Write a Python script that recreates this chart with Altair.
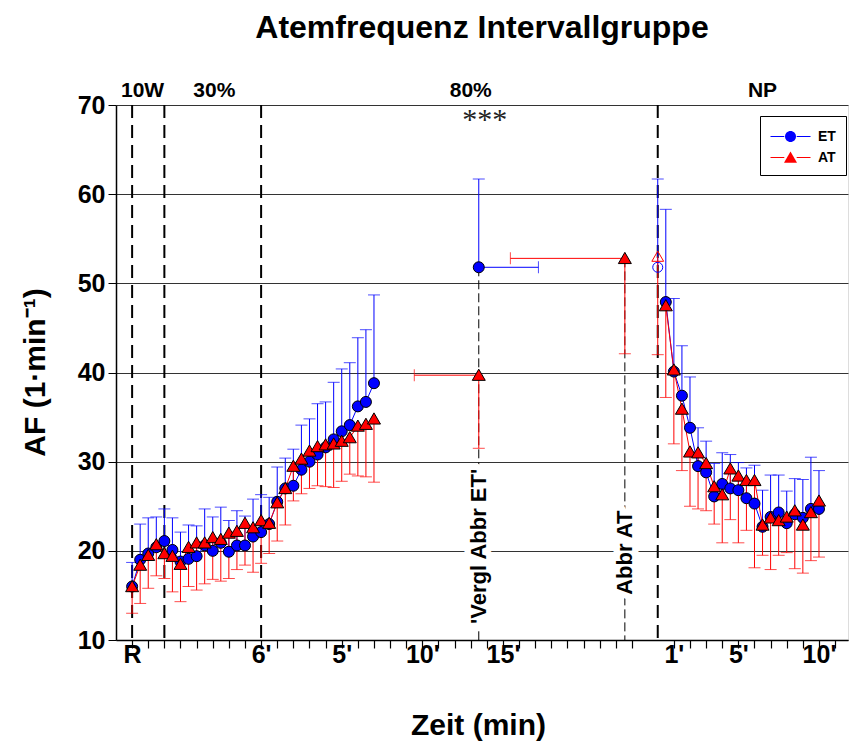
import altair as alt
import pandas as pd

F = "Liberation Sans"

# ---------------- data ----------------
pre_time = [0, 0.5, 1, 1.5, 2, 2.5, 3, 3.5, 4, 4.5, 5, 5.5, 6, 6.5, 7, 7.5, 8, 8.5,
            9, 9.5, 10, 10.5, 11, 11.5, 12, 12.5, 13, 13.5, 14, 14.5, 15]
et_pre = [16.0, 19.0, 19.7, 20.4, 21.1, 20.1, 18.8, 19.1, 19.4, 20.6, 20.0, 20.9, 19.9,
          20.6, 20.6, 21.6, 22.1, 23.0, 25.5, 27.0, 27.3, 29.1, 30.0, 30.8, 31.6, 32.5,
          33.4, 34.1, 36.2, 36.7, 38.8]
et_pre_sd = [2.7, 4.0, 4.0, 3.4, 3.6, 3.6, 3.3, 3.8, 3.4, 4.1, 3.8, 4.0, 3.5, 3.9, 3.3,
             4.2, 4.2, 3.0, 3.9, 3.4, 4.1, 5.0, 4.8, 5.7, 5.1, 6.4, 7.0, 7.0, 7.7, 8.1, 9.9]
at_pre = [16.0, 18.4, 19.5, 20.7, 19.7, 19.4, 18.5, 20.4, 20.9, 20.9, 21.5, 21.3, 22.0,
          22.2, 23.1, 22.6, 23.4, 23.1, 25.4, 27.0, 29.5, 30.3, 31.2, 31.7, 31.9, 32.0,
          32.3, 32.7, 34.0, 34.2, 34.8]
at_pre_sd = [3.0, 4.3, 3.7, 3.5, 2.8, 4.0, 4.2, 4.4, 5.3, 4.6, 4.7, 4.7, 5.1, 4.3, 4.7,
             5.0, 4.8, 3.4, 4.3, 4.1, 3.9, 3.9, 4.2, 4.4, 4.7, 4.9, 4.5, 4.1, 5.6, 5.9, 7.1]

post_time = [0.5, 1, 1.5, 2, 2.5, 3, 3.5, 4, 4.5, 5, 5.5, 6, 6.5, 7, 7.5, 8, 8.5, 9, 9.5, 10]
et_post = [47.9, 40.1, 37.4, 33.8, 29.5, 28.8, 26.1, 27.5, 27.0, 26.8, 25.9, 25.3, 22.7,
           23.8, 24.3, 23.1, 24.1, 23.7, 24.7, 24.7]
et_post_sd = [10.4, 8.2, 5.6, 5.7, 4.3, 3.5, 3.7, 3.5, 3.8, 3.1, 3.4, 4.3, 4.1, 4.7, 4.2,
              3.6, 4.0, 4.3, 5.8, 4.3]
at_post = [47.5, 40.3, 35.9, 31.1, 31.0, 29.8, 27.2, 26.3, 29.2, 28.4, 27.9, 27.9, 22.9,
           23.7, 23.4, 23.8, 24.5, 22.9, 24.3, 25.6]
at_post_sd = [10.3, 8.3, 6.9, 6.1, 6.3, 5.3, 4.2, 5.4, 5.7, 7.5, 5.6, 9.8, 3.4, 5.8, 3.9,
              4.0, 6.5, 5.4, 5.4, 6.3]

# termination ("Abbruch") values
vergl_pos = 21.5          # ET termination time (min)
vergl_pos_sd = 3.7
et_term = 51.8
et_term_sd = 9.9
at_vergl = 39.7            # AT at ET termination time
at_vergl_sd = 8.2
at_vergl_pos_sd = 4.0
abbr_at_pos = 30.56        # AT termination time
abbr_at_pos_sd = 7.1
at_term = 52.8
at_term_sd = 10.7
np_et = 51.8
np_et_sd = 9.9
np_at = 53.0
np_at_sd = 11.0

POST_OFFSET = 32.6         # position of recovery start (NP)
phase_lines = [0, 2, 8, POST_OFFSET]
phase_names = ["10W", "30%", "80%", "NP"]
phase_label_pos = [0.65, 5.1, 21.0, 39.1]

label_pos = [0, 8, 13, 18, 23, POST_OFFSET + 1, POST_OFFSET + 5, POST_OFFSET + 10]
label_txt = ["R", "6'", "5'", "10'", "15'", "1'", "5'", "10'"]
tick_vals = list(range(0, 32)) + [round(POST_OFFSET + i, 2) for i in range(1, 12)]

BLUE = "#0000ff"
RED = "#ff0000"
CIRCLE = "M0.55,0A0.55,0.55,0,1,1,-0.55,0A0.55,0.55,0,1,1,0.55,0Z"
TRI = "M0,-0.6L0.65,0.52L-0.65,0.52Z"
LINE_SYM = "M-2,0H-0.62M0.62,0H2"

# ---------------- tables ----------------
rows = []
for t, m, s in zip(pre_time, et_pre, et_pre_sd):
    rows.append(dict(pos=t, val=m, cap=m + s, serie="ET", grp="ET", section="pre"))
for t, m, s in zip(pre_time, at_pre, at_pre_sd):
    rows.append(dict(pos=t, val=m, cap=m - s, serie="AT", grp="AT", section="pre"))
for t, m, s in zip(post_time, et_post, et_post_sd):
    rows.append(dict(pos=POST_OFFSET + t, val=m, cap=m + s, serie="ET", grp="ET", section="post"))
for t, m, s in zip(post_time, at_post, at_post_sd):
    rows.append(dict(pos=POST_OFFSET + t, val=m, cap=m - s, serie="AT", grp="AT", section="post"))
main = pd.DataFrame(rows)

special = pd.DataFrame([
    dict(pos=vergl_pos, val=et_term, cap=et_term + et_term_sd, serie="ET", grp="ET", section="term"),
    dict(pos=vergl_pos, val=at_vergl, cap=at_vergl - at_vergl_sd, serie="AT", grp="AT", section="term"),
    dict(pos=abbr_at_pos, val=at_term, cap=at_term - at_term_sd, serie="AT", grp="AT", section="term"),
])
hollow = pd.DataFrame([
    dict(pos=POST_OFFSET, val=np_et, cap=np_et + np_et_sd, serie="ET"),
    dict(pos=POST_OFFSET, val=np_at, cap=np_at - np_at_sd, serie="AT"),
])
errs = pd.concat([main[["pos", "val", "cap", "serie"]], special[["pos", "val", "cap", "serie"]], hollow])
herr = pd.DataFrame([
    dict(pos=vergl_pos, pos2=vergl_pos + vergl_pos_sd, val=et_term, serie="ET"),
    dict(pos=vergl_pos, pos2=vergl_pos - at_vergl_pos_sd, val=at_vergl, serie="AT"),
    dict(pos=abbr_at_pos, pos2=abbr_at_pos - abbr_at_pos_sd, val=at_term, serie="AT"),
])
thin = pd.DataFrame(dict(pos=[vergl_pos, abbr_at_pos], val=[et_term, at_term], bottom=[10, 10]))
vlab = pd.DataFrame(dict(pos=[vergl_pos, abbr_at_pos], val=[20.5, 19.8],
                         txt=["'Vergl Abbr ET'", "Abbr AT"]))
phases = pd.DataFrame(dict(pos=phase_lines))
toplab = pd.DataFrame(dict(pos=phase_label_pos, val=[70] * 4, txt=phase_names))
stars = pd.DataFrame(dict(pos=[21.87], val=[68.3], txt=["***"]))

# ---------------- encodings ----------------
expr = '""'
for p, t in reversed(list(zip(label_pos, label_txt))):
    expr = f'abs(datum.value - {p}) < 0.01 ? "{t}" : ({expr})'

xscale = alt.Scale(domain=[-1, 44.4], nice=False, zero=False)
yscale = alt.Scale(domain=[10, 70], nice=False, zero=False)
xaxis = alt.Axis(values=tick_vals, labelExpr=expr, grid=False, tickSize=8, tickColor="black",
                 domainColor="black", domainWidth=1.5, tickWidth=1.2,
                 labelFont=F, labelFontSize=25, labelFontWeight="bold", labelColor="black",
                 labelPadding=-6, labelOverlap=False, labelFlush=False,
                 titleFont=F, titleFontSize=30, titleFontWeight="bold", titleColor="black",
                 titleX=362, titleY=85, titleBaseline="middle")
yaxis = alt.Axis(values=[10, 20, 30, 40, 50, 60, 70], grid=True, gridColor="#333333", gridWidth=1,
                 tickSize=8, tickColor="black", domainColor="black", domainWidth=1.5,
                 labelFont=F, labelFontSize=25, labelFontWeight="bold", labelColor="black",
                 labelPadding=3,
                 titleFont=F, titleFontSize=30, titleFontWeight="bold", titleColor="black",
                 titleAngle=270, titleX=-81, titleY=267, titleBaseline="middle")


def X(field="pos"):
    return alt.X(field, type="quantitative", scale=xscale, axis=xaxis, title="Zeit (min)")


def Y(field="val"):
    return alt.Y(field, type="quantitative", scale=yscale, axis=yaxis, title="AF (1·min⁻¹)")


def col(s):
    return BLUE if s == "ET" else RED


layers = []
layers.append(alt.Chart(phases).mark_rule(color="black", strokeWidth=2, strokeDash=[13, 7])
              .encode(x=X()))
layers.append(alt.Chart(thin).mark_rule(color="black", strokeWidth=1, strokeDash=[9, 4])
              .encode(x=X(), y=Y(), y2="bottom:Q"))
for s in ["ET", "AT"]:
    e = errs[errs.serie == s]
    layers.append(alt.Chart(e).mark_rule(color=col(s), strokeWidth=1)
                  .encode(x=X(), y=Y(), y2="cap:Q"))
    layers.append(alt.Chart(e).mark_tick(color=col(s), orient="horizontal", size=12, thickness=1)
                  .encode(x=X(), y=Y("cap")))
    h = herr[herr.serie == s]
    layers.append(alt.Chart(h).mark_rule(color=col(s), strokeWidth=1)
                  .encode(x=X(), x2="pos2:Q", y=Y()))
    layers.append(alt.Chart(h).mark_tick(color=col(s), orient="vertical", size=12, thickness=1)
                  .encode(x=X("pos2"), y=Y()))

LEG_X, LEG_Y = 644, 11
line_legend = alt.Legend(title=None, orient="none", legendX=LEG_X, legendY=LEG_Y,
                         symbolType=LINE_SYM, symbolSize=400, symbolStrokeWidth=1,
                         padding=10, rowPadding=3, symbolOffset=10, labelOffset=17,
                         strokeColor="black", labelFont=F, labelFontSize=14,
                         labelFontWeight="bold", labelColor="black", direction="vertical")
point_legend = alt.Legend(title=None, orient="none", legendX=LEG_X, legendY=LEG_Y,
                          symbolSize=400, symbolStrokeWidth=1, symbolStrokeColor="black",
                          padding=10, rowPadding=3, symbolOffset=10, labelOffset=17,
                          labelFont=F, labelFontSize=14, labelExpr="''",
                          direction="vertical")

layers.append(alt.Chart(main).mark_line(strokeWidth=1).encode(
    x=X(), y=Y(), detail="section:N",
    stroke=alt.Stroke("serie:N", scale=alt.Scale(domain=["ET", "AT"], range=[BLUE, RED]),
                      legend=line_legend)))
pts = pd.concat([main, special])
layers.append(alt.Chart(pts).mark_point(filled=True, size=400, stroke="black", strokeWidth=1,
                                        opacity=1).encode(
    x=X(), y=Y(),
    fill=alt.Fill("grp:N", sort="descending", scale=alt.Scale(range=[BLUE, RED]),
                  legend=point_legend),
    shape=alt.Shape("grp:N", sort="descending", scale=alt.Scale(range=[CIRCLE, TRI]),
                    legend=point_legend)))
for s, shp in [("ET", CIRCLE), ("AT", TRI)]:
    layers.append(alt.Chart(hollow[hollow.serie == s]).mark_point(
        filled=False, size=330, strokeWidth=1, color=col(s), opacity=1).encode(
        x=X(), y=Y(), shape=alt.value(shp)))

layers.append(alt.Chart(vlab).mark_text(angle=270, font=F, fontSize=22, fontWeight="bold",
                                        fill="white", stroke="white", strokeWidth=13,
                                        strokeJoin="round", baseline="middle", align="center")
              .encode(x=X(), y=Y(), text="txt:N"))
layers.append(alt.Chart(vlab).mark_text(angle=270, font=F, fontSize=22, fontWeight="bold",
                                        color="black", baseline="middle", align="center")
              .encode(x=X(), y=Y(), text="txt:N"))
layers.append(alt.Chart(toplab).mark_text(font=F, fontSize=21, fontWeight="bold", color="black",
                                          baseline="middle", align="center", dy=-14)
              .encode(x=X(), y=Y(), text="txt:N"))
layers.append(alt.Chart(stars).mark_text(font="Liberation Serif", fontSize=30, color="#222222",
                                         baseline="middle", align="center")
              .encode(x=X(), y=Y(), text="txt:N"))

chart = alt.layer(*layers).properties(
    width=732, height=535,
    autosize=alt.AutoSizeParams(type="none"),
    padding={"left": 116, "top": 105, "right": 1, "bottom": 105},
    title=alt.TitleParams("Atemfrequenz Intervallgruppe", font=F, fontSize=32, fontWeight="bold",
                          color="black", anchor="middle", frame="group", offset=35),
).configure_view(stroke=None).configure(background="white")

chart.save("out.html", embed_options={"renderer": "svg", "actions": False})
